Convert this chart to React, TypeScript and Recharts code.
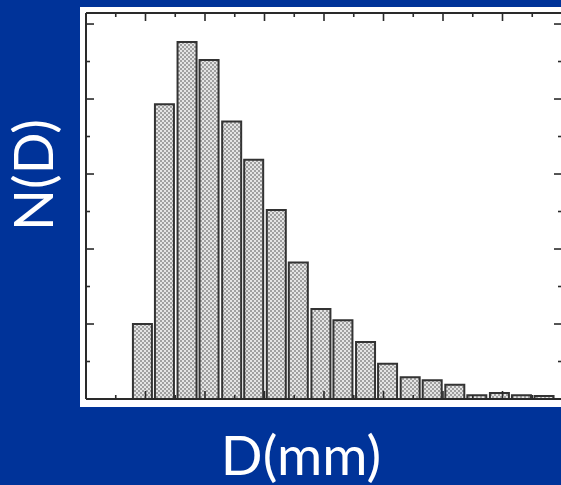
import React from 'react';
import { BarChart, Bar, XAxis, YAxis } from 'recharts';

// Bin centres of D (axis units) and N(D) heights (axis units)
const dCenters = [0.94, 1.31, 1.69, 2.06, 2.44, 2.81, 3.19, 3.56, 3.94, 4.31, 4.69, 5.06, 5.44, 5.81, 6.19, 6.56, 6.94, 7.31, 7.69];
const counts = [1.0, 3.93, 4.76, 4.52, 3.7, 3.19, 2.52, 1.82, 1.2, 1.05, 0.76, 0.47, 0.29, 0.25, 0.19, 0.05, 0.08, 0.05, 0.04];
const xTicks = [0.5, 1, 1.5, 2, 2.5, 3, 3.5, 4, 4.5, 5, 5.5, 6, 6.5, 7, 7.5];
const yTicks = [0.5, 1, 1.5, 2, 2.5, 3, 3.5, 4, 4.5, 5];
const xLabel = 'D(mm)';
const yLabel = 'N(D)';

const data = dCenters.map((d, i) => ({ d, n: counts[i] }));

const TICK = '#2a2a2a';
const isMajor = (v: number) => Number.isInteger(v);

const TickBottom = (p: any) => {
  const len = isMajor(p.payload.value) ? 8 : 4;
  return <line x1={p.x} x2={p.x} y1={p.y} y2={p.y - len} stroke={TICK} strokeWidth={1.6} />;
};
const TickTop = (p: any) => {
  const len = isMajor(p.payload.value) ? 8 : 4;
  return <line x1={p.x} x2={p.x} y1={p.y} y2={p.y + len} stroke={TICK} strokeWidth={1.6} />;
};
const TickLeft = (p: any) => {
  const len = isMajor(p.payload.value) ? 8 : 4;
  return <line x1={p.x} x2={p.x + len} y1={p.y} y2={p.y} stroke={TICK} strokeWidth={1.6} />;
};
const TickRight = (p: any) => {
  const len = isMajor(p.payload.value) ? 8 : 4;
  return <line x1={p.x} x2={p.x - len} y1={p.y} y2={p.y} stroke={TICK} strokeWidth={1.6} />;
};

export default function App() {
  return (
    <div
      style={{
        position: 'absolute',
        left: 0,
        top: 0,
        width: 561,
        height: 485,
        background: '#003399',
        overflow: 'hidden',
      }}
    >
      <div style={{ position: 'absolute', left: 80, top: 7, width: 481, height: 400, background: '#ffffff' }} />
      <div style={{ position: 'absolute', left: 0, top: 0 }}>
        <BarChart width={563} height={485} data={data} margin={{ top: 12, right: 0, bottom: 85, left: 85 }}>
          <defs>
            <pattern id="checker" width="4" height="4" patternUnits="userSpaceOnUse">
              <rect x="0" y="0" width="4" height="4" fill="#e4e4e4" />
              <rect x="0" y="0" width="2" height="2" fill="#a0a0a0" />
              <rect x="2" y="2" width="2" height="2" fill="#a0a0a0" />
            </pattern>
          </defs>
          <XAxis
            xAxisId="b"
            dataKey="d"
            type="number"
            orientation="bottom"
            domain={[0, 8]}
            allowDataOverflow
            ticks={xTicks}
            interval={0}
            height={1}
            tickSize={0}
            tickMargin={0}
            tickLine={false}
            tick={TickBottom}
            axisLine={{ stroke: TICK, strokeWidth: 2 }}
          />
          <XAxis
            xAxisId="t"
            dataKey="d"
            type="number"
            orientation="top"
            domain={[0, 8]}
            allowDataOverflow
            ticks={xTicks}
            interval={0}
            height={1}
            tickSize={0}
            tickMargin={0}
            tickLine={false}
            tick={TickTop}
            axisLine={{ stroke: TICK, strokeWidth: 2 }}
          />
          <YAxis
            yAxisId="l"
            type="number"
            orientation="left"
            domain={[0, 5.147]}
            allowDataOverflow
            ticks={yTicks}
            interval={0}
            width={1}
            tickSize={0}
            tickMargin={0}
            tickLine={false}
            tick={TickLeft}
            axisLine={{ stroke: TICK, strokeWidth: 2 }}
          />
          <YAxis
            yAxisId="r"
            type="number"
            orientation="right"
            domain={[0, 5.147]}
            allowDataOverflow
            ticks={yTicks}
            interval={0}
            width={1}
            tickSize={0}
            tickMargin={0}
            tickLine={false}
            tick={TickRight}
            axisLine={false}
          />
          <Bar
            dataKey="n"
            xAxisId="b"
            yAxisId="l"
            barSize={19}
            fill="url(#checker)"
            stroke="#333333"
            strokeWidth={2}
            isAnimationActive={false}
          />
        </BarChart>
      </div>
      <svg
        width={561}
        height={485}
        style={{ position: 'absolute', left: 0, top: 0, pointerEvents: 'none' }}
      >
        <text x={301} y={475} textAnchor="middle" fill="#ffffff" fontFamily="Lato, 'Open Sans', sans-serif" fontSize={55}>
          {xLabel}
        </text>
        <text
          x={53}
          y={175}
          textAnchor="middle"
          fill="#ffffff"
          fontFamily="Lato, 'Open Sans', sans-serif"
          fontSize={55}
          transform="rotate(-90 53 175)"
        >
          {yLabel}
        </text>
      </svg>
    </div>
  );
}
